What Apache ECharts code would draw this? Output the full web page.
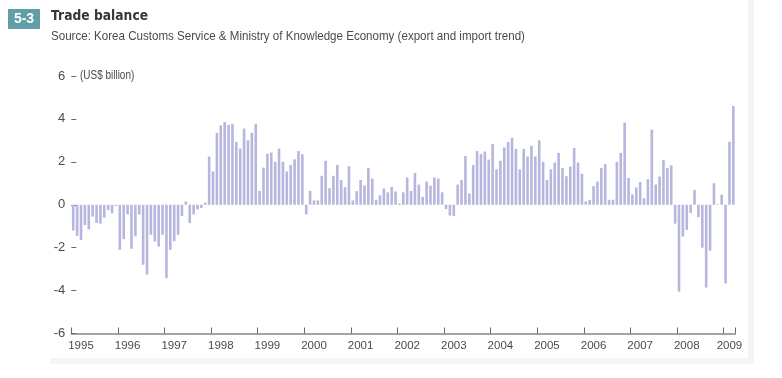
<!DOCTYPE html>
<html><head><meta charset="utf-8">
<style>html,body{margin:0;padding:0;background:#fff}#c{width:782px;height:378px}</style>
<script src="https://cdn.jsdelivr.net/npm/echarts@6/dist/echarts.min.js"></script>
</head><body><div id="c"></div>
<script>
const y1995 = [-1.2,-1.45,-1.65,-0.95,-1.15,-0.55,-0.85,-0.88,-0.6,-0.25,-0.4,-0.05];
const y1996 = [-2.1,-1.6,-0.45,-2.05,-1.47,-0.45,-2.8,-3.25,-1.4,-1.72,-1.95,-1.4];
const y1997 = [-3.42,-2.1,-1.7,-1.4,-0.52,0.15,-0.85,-0.45,-0.22,-0.15,0.1,2.25];
const y1998 = [1.55,3.35,3.7,3.85,3.72,3.77,2.93,2.62,3.55,3.0,3.35,3.77];
const y1999 = [0.65,1.73,2.37,2.43,2.0,2.62,2.0,1.55,1.85,2.12,2.5,2.35];
const y2000 = [-0.45,0.65,0.2,0.2,1.35,2.05,0.77,1.35,1.85,1.15,0.82,1.8];
const y2001 = [0.2,0.63,1.15,0.9,1.72,1.22,0.23,0.44,0.76,0.58,0.83,0.62];
const y2002 = [0.06,0.58,1.27,0.64,1.48,0.94,0.36,1.08,0.89,1.27,1.22,0.58];
const y2003 = [-0.2,-0.5,-0.53,0.94,1.16,2.27,0.52,1.85,2.5,2.36,2.48,2.1];
const y2004 = [2.83,1.65,2.05,2.67,2.92,3.12,2.6,1.65,2.6,2.25,2.75,2.25];
const y2005 = [3.0,2.0,1.15,1.65,1.97,2.42,1.72,1.33,1.78,2.65,1.97,1.45];
const y2006 = [0.16,0.23,0.87,1.08,1.72,1.9,0.23,0.23,2.0,2.42,3.83,1.25];
const y2007 = [0.48,0.81,1.06,0.3,1.19,3.5,0.94,1.31,2.09,1.72,1.84,-0.88];
const y2008 = [-4.05,-1.48,-1.17,-0.39,0.69,-0.58,-2.0,-3.86,-2.14,1.0,0.02,0.47];
const y2009 = [-3.67,2.94,4.6];
const years = [1995,1996,1997,1998,1999,2000,2001,2002,2003,2004,2005,2006,2007,2008,2009];
const yValues = [y1995,y1996,y1997,y1998,y1999,y2000,y2001,y2002,y2003,y2004,y2005,y2006,y2007,y2008,y2009];
const categories = [];
const values = [];
years.forEach((yr,i)=>yValues[i].forEach((v,m)=>{categories.push(yr+'-'+String(m+1).padStart(2,'0'));values.push(v);}));

const FONT = '"Liberation Sans",sans-serif';
const chart = echarts.init(document.getElementById('c'),null,{renderer:'canvas'});
chart.setOption({
  animation:false,
  backgroundColor:'#ffffff',
  grid:{left:71.3,top:76,width:664,height:257.5,containLabel:false},
  xAxis:{type:'category',data:categories,boundaryGap:true,
    axisLine:{onZero:false,lineStyle:{color:'#85858f',width:1.5}},
    axisTick:{show:true,inside:true,length:6,alignWithLabel:false,lineStyle:{color:'#66666c',width:1},
      interval:(i,v)=>String(v).endsWith('-01')},
    axisLabel:{color:'#4a4a50',fontFamily:FONT,fontSize:11.5,margin:6,hideOverlap:false,
      interval:(i,v)=>v.endsWith('-03')&&!v.startsWith('2009')||v==='2009-02',
      formatter:v=>v.slice(0,4)},
    splitLine:{show:false}},
  yAxis:{type:'value',min:-6,max:6,interval:2,
    axisLine:{show:false},
    axisTick:{show:true,inside:true,length:5,lineStyle:{color:'#6a6a70',width:1}},
    axisLabel:{color:'#4a4a50',fontFamily:FONT,fontSize:13,margin:6},
    splitLine:{show:false}},
  series:[{type:'bar',data:values,barWidth:2.6,itemStyle:{color:'#b6b6de'}}],
  graphic:[
    {type:'rect',shape:{x:748,y:0,width:6,height:364},style:{fill:'#f5f5f5'},silent:true},
    {type:'rect',shape:{x:50,y:358,width:698,height:6},style:{fill:'#f5f5f5'},silent:true},
    {type:'rect',shape:{x:734.6,y:326,width:3,height:6.3},style:{fill:'#ffffff'},silent:true},
    {type:'rect',shape:{x:8,y:9,width:32,height:20},style:{fill:'#5e9fa8'}},
    {type:'text',x:24,y:19,style:{text:'5-3',fill:'#ffffff',font:'bold 14px "Liberation Sans",sans-serif',align:'center',verticalAlign:'middle'}},
    {type:'text',x:51,y:16,scaleX:0.85,style:{text:'Trade balance',fill:'#35353f',font:'bold 14.5px "DejaVu Sans",sans-serif',align:'left',verticalAlign:'middle'}},
    {type:'text',x:51,y:36,scaleX:0.89,style:{text:'Source: Korea Customs Service & Ministry of Knowledge Economy (export and import trend)',fill:'#4a4a50',font:'13px '+FONT,align:'left',verticalAlign:'middle'}},
    {type:'text',x:80,y:76,scaleX:0.83,style:{text:'(US$ billion)',fill:'#4a4a50',font:'12px '+FONT,align:'left',verticalAlign:'middle'}}
  ]
});
</script></body></html>
